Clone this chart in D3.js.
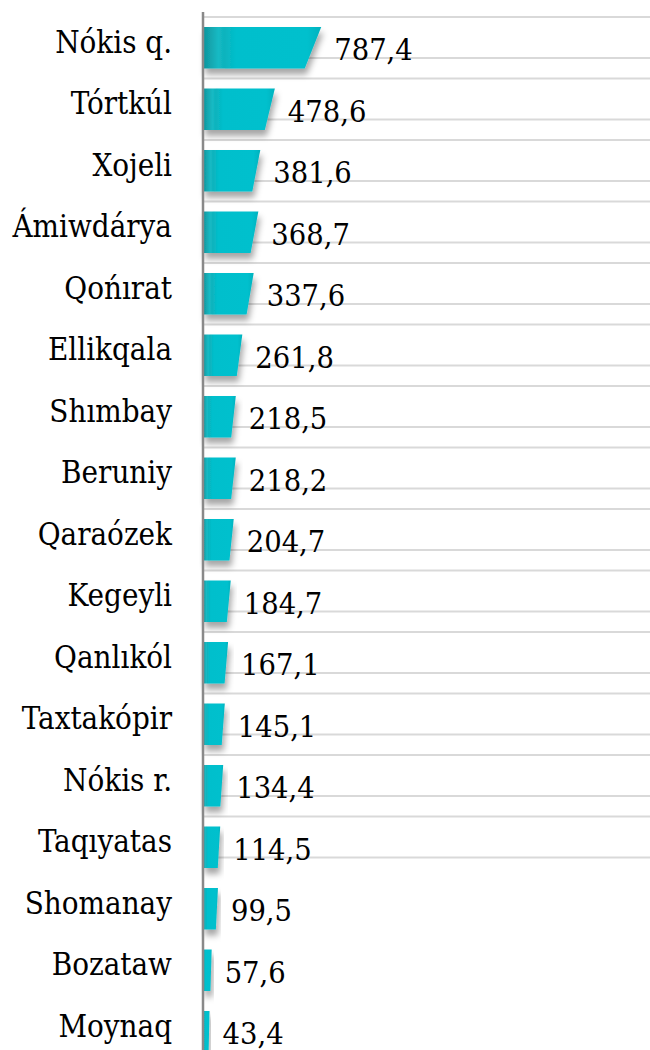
<!DOCTYPE html>
<html>
<head>
<meta charset="utf-8">
<script src="https://cdn.jsdelivr.net/npm/d3@7"></script>
<style>
  html, body { margin: 0; padding: 0; background: #ffffff; }
  svg { display: block; }
</style>
</head>
<body>
<svg id="chart" width="650" height="1050"></svg>
<script>
// Districts, sorted from largest to smallest
const districts = [
  "Nókis q.", "Tórtkúl", "Xojeli", "Ámiwdárya", "Qońırat", "Ellikqala",
  "Shımbay", "Beruniy", "Qaraózek", "Kegeyli", "Qanlıkól", "Taxtakópir",
  "Nókis r.", "Taqıyatas", "Shomanay", "Bozataw", "Moynaq"
];
const values = [
  787.4, 478.6, 381.6, 368.7, 337.6, 261.8,
  218.5, 218.2, 204.7, 184.7, 167.1, 145.1,
  134.4, 114.5, 99.5, 57.6, 43.4
];

const width = 650, height = 1050;
const axisX = 203;
const serif = "'DejaVu Serif', serif";
const svg = d3.select("#chart");

const x = d3.scaleLinear().domain([0, 3200]).range([axisX, width]);
const y = d3.scaleBand()
  .domain(districts)
  .range([17, 17 + districts.length * 61.5])
  .paddingInner(0.325)
  .paddingOuter(0.1625);

const fmt = d3.formatLocale({ decimal: ",", thousands: " ", grouping: [3], currency: ["", ""] }).format(".1f");

// Bar fill: darker shaded strip at the base, bright cyan body
const defs = svg.append("defs");
const grad = defs.append("linearGradient")
  .attr("id", "barFill")
  .attr("x1", 0).attr("x2", 1).attr("y1", 0).attr("y2", 0);
[
  [0, "#0f949c"], [0.08, "#13abb4"], [0.13, "#17bac4"], [0.18, "#0db3bd"],
  [0.28, "#00bfcc"], [0.88, "#00c0cd"], [1, "#00b2be"]
].forEach(([o, c]) => grad.append("stop").attr("offset", o).attr("stop-color", c));

const shadow = defs.append("filter")
  .attr("id", "barShadow")
  .attr("x", "-10%").attr("y", "-20%").attr("width", "130%").attr("height", "160%");
shadow.append("feDropShadow")
  .attr("dx", 2).attr("dy", 6).attr("stdDeviation", 3)
  .attr("flood-color", "#000").attr("flood-opacity", 0.35);

// Horizontal guide lines
const step = y.step();
const bandStart = d => y(d) - y.paddingOuter() * step;
const gridRows = districts.slice(0, 14);
const gridYs = [];
gridRows.forEach(d => { gridYs.push(bandStart(d)); gridYs.push(bandStart(d) + 41); });
svg.append("g").selectAll("line")
  .data(gridYs)
  .join("line")
  .attr("x1", axisX).attr("x2", width)
  .attr("y1", d => d).attr("y2", d => d)
  .attr("stroke", "#d9d9d9").attr("stroke-width", 2);

// Bars drawn with a perspective slant on the far end
const slant = 0.075;
const data = districts.map((d, i) => ({ name: d, value: values[i] }));
svg.append("g").selectAll("path")
  .data(data)
  .join("path")
  .attr("d", d => {
    const len = x(d.value) - x(0);
    const top = y(d.name), bot = y(d.name) + y.bandwidth();
    return `M${x(0)},${top}L${x(0) + len * (1 + slant)},${top}` +
           `L${x(0) + len * (1 - slant)},${bot}L${x(0)},${bot}Z`;
  })
  .attr("fill", "url(#barFill)")
  .attr("filter", "url(#barShadow)");

// Category axis line
svg.append("line")
  .attr("x1", axisX).attr("x2", axisX)
  .attr("y1", 12).attr("y2", height)
  .attr("stroke", "#898989").attr("stroke-width", 2.5);

// Category labels
svg.append("g").selectAll("text")
  .data(data)
  .join("text")
  .attr("x", 172)
  .attr("y", d => y(d.name) + y.bandwidth() / 2 + 5)
  .attr("text-anchor", "end")
  .attr("font-family", serif)
  .attr("font-stretch", "condensed")
  .attr("font-size", 31)
  .attr("fill", "#000")
  .text(d => d.name);

// Value labels
svg.append("g").selectAll("text")
  .data(data)
  .join("text")
  .attr("x", d => x(0) + (x(d.value) - x(0)) * (1 + slant) + 13)
  .attr("y", d => y(d.name) + y.bandwidth() / 2 + 12.5)
  .attr("font-family", serif)
  .attr("font-stretch", "condensed")
  .attr("font-size", 30.5)
  .attr("fill", "#000")
  .text(d => fmt(d.value));
</script>
</body>
</html>
